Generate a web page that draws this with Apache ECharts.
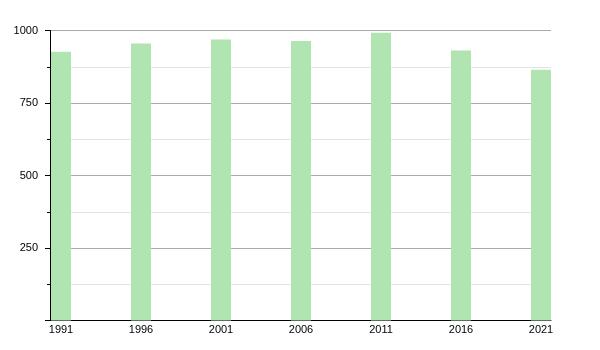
<!DOCTYPE html>
<html>
<head>
<meta charset="utf-8">
<script src="https://cdn.jsdelivr.net/npm/echarts@6/dist/echarts.min.js"></script>
<style>html,body{margin:0;padding:0;background:#fff}#c{width:600px;height:350px}</style>
</head>
<body>
<div id="c"></div>
<script>
var years = [1991, 1996, 2001, 2006, 2011, 2016, 2021];
var population = [927, 955, 969, 964, 992, 931, 865];
var yTicks = [250, 500, 750, 1000];

var chart = echarts.init(document.getElementById('c'), null, {renderer: 'canvas'});
chart.setOption({
  animation: false,
  grid: {left: 50, right: 49, top: 30.5, bottom: 29.5, containLabel: false},
  xAxis: {
    type: 'value',
    min: 1990.3125,
    max: 2021.625,
    axisLine: {show: true, lineStyle: {color: '#000', width: 1}},
    axisTick: {show: false},
    splitLine: {show: false},
    axisLabel: {
      customValues: years,
      color: '#000',
      fontFamily: 'Liberation Sans, Arial, sans-serif',
      fontSize: 11,
      margin: 4,
      formatter: function (v) { return String(Math.round(v)); }
    }
  },
  yAxis: {
    type: 'value',
    min: 0,
    max: 1000,
    interval: 250,
    axisLine: {show: true, lineStyle: {color: '#000', width: 1}},
    axisTick: {show: true, length: 5, lineStyle: {color: '#000'}},
    minorTick: {show: true, splitNumber: 2, length: 3, lineStyle: {color: '#000'}},
    splitLine: {show: true, lineStyle: {color: '#aaaaaa', width: 1}},
    minorSplitLine: {show: true, lineStyle: {color: '#e2e2e2', width: 1}},
    axisLabel: {
      color: '#000',
      fontFamily: 'Liberation Sans, Arial, sans-serif',
      fontSize: 11,
      margin: 12,
      formatter: function (v) { return yTicks.indexOf(v) >= 0 ? String(v) : ''; }
    }
  },
  series: [{
    type: 'bar',
    barWidth: 20,
    itemStyle: {color: '#b0e4b0'},
    data: years.map(function (y, i) { return [y, population[i]]; })
  }]
});
</script>
</body>
</html>
